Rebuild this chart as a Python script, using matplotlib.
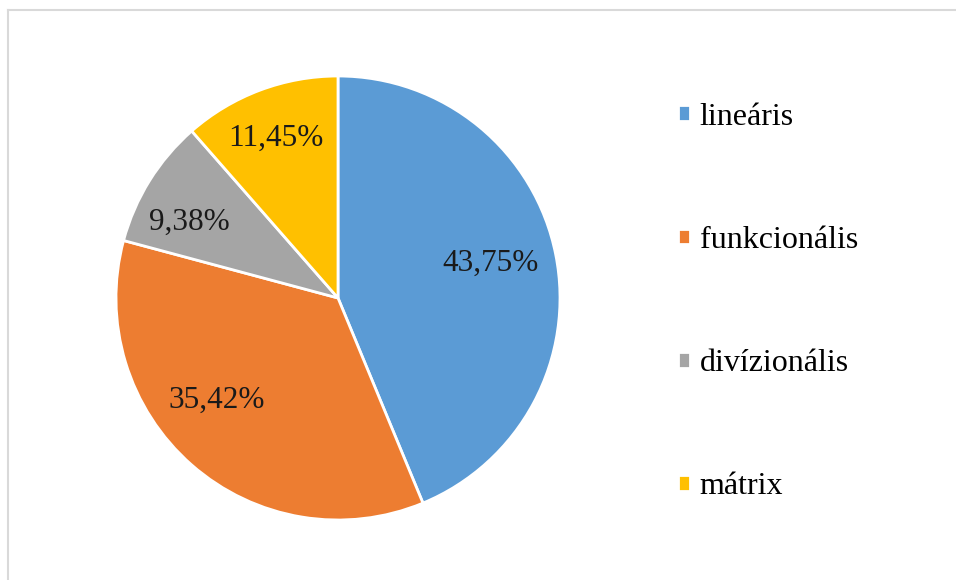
import matplotlib
matplotlib.use('Agg')
import matplotlib.pyplot as plt
from matplotlib.lines import Line2D

plt.rcParams['font.family'] = ['Liberation Serif', 'DejaVu Serif']

# data
labels = ['lineáris', 'funkcionális', 'divízionális', 'mátrix']
values = [43.75, 35.42, 9.38, 11.45]
colors = ['#5B9BD5', '#ED7D31', '#A5A5A5', '#FFC000']

# where the percentage labels sit (pie radius = 1)
label_xy = [(0.689, 0.154), (-0.545, -0.463), (-0.671, 0.343), (-0.279, 0.717)]

W, H = 956, 580
fig = plt.figure(figsize=(W / 100, H / 100), dpi=100)

# pie centred at (338, 298) px, radius ~222 px
cx, cy, r = 338, 298, 222
ax = fig.add_axes([(cx - r) / W, (H - cy - r) / H, 2 * r / W, 2 * r / H])

def fmt(p):
    return f'{p:.2f}'.replace('.', ',') + '%'

wedges, texts, autotexts = ax.pie(
    values, colors=colors, startangle=90, counterclock=False,
    autopct=fmt, pctdistance=0.74,
    wedgeprops=dict(edgecolor='white', linewidth=2),
    textprops=dict(fontsize=22.5, color='#1a1a1a'))
for t, xy in zip(autotexts, label_xy):
    t.set_position(xy)
ax.set_xlim(-1, 1)
ax.set_ylim(-1, 1)
ax.set_aspect('equal')
ax.axis('off')

fig.legend(wedges, labels, loc='center left',
           bbox_to_anchor=(678 / W, 1 - 302 / H),
           frameon=False, fontsize=23, borderpad=0, borderaxespad=0,
           handlelength=0.38, handleheight=0.38, handletextpad=0.3,
           labelspacing=2.95)

# light frame on top and left edges
fig.add_artist(Line2D([8 / W, 1], [1 - 10 / H, 1 - 10 / H], color='#d9d9d9', lw=1.5,
                      transform=fig.transFigure))
fig.add_artist(Line2D([8 / W, 8 / W], [0, 1 - 10 / H], color='#d9d9d9', lw=1.5,
                      transform=fig.transFigure))

fig.savefig('out.png', dpi=100)
